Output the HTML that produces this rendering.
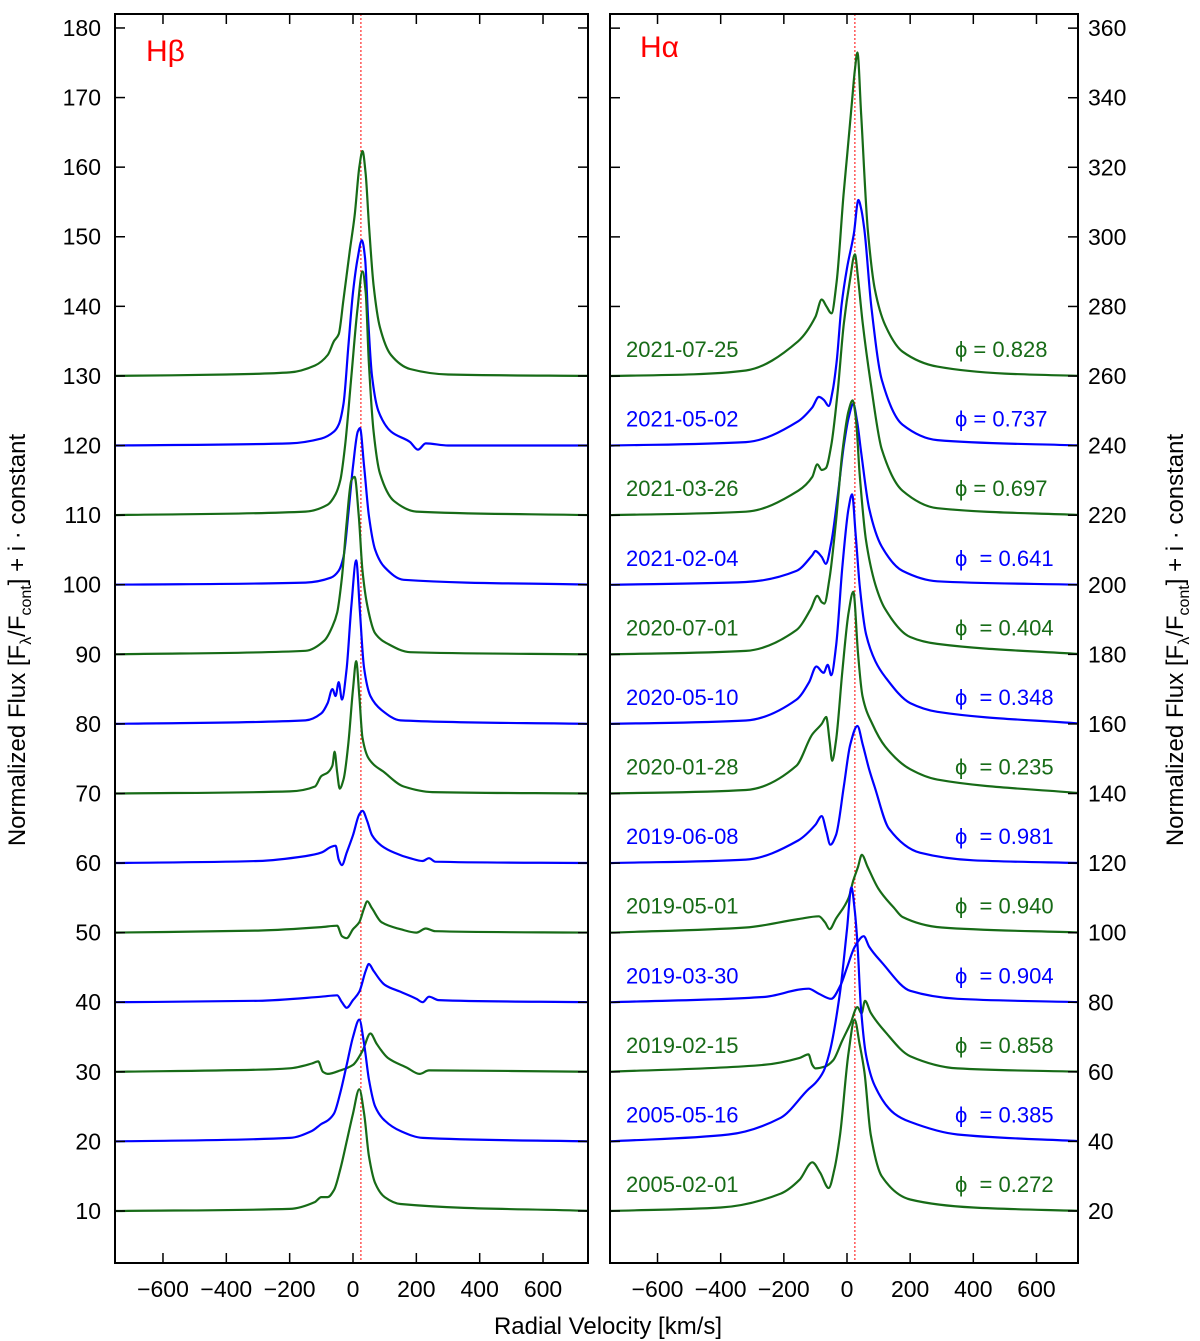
<!DOCTYPE html>
<html><head><meta charset="utf-8"><style>
body{margin:0;background:#fff}
svg{display:block;font-family:"Liberation Sans",sans-serif}
</style></head><body>
<svg id="chart" width="1200" height="1341" viewBox="0 0 1200 1341" xmlns="http://www.w3.org/2000/svg">
<defs>
<clipPath id="clipL"><rect x="115" y="14" width="473" height="1249"/></clipPath>
<clipPath id="clipR"><rect x="610" y="14" width="468" height="1249"/></clipPath>
</defs>
<g id="gL" clip-path="url(#clipL)"></g>
<g id="gR" clip-path="url(#clipR)"></g>
<g id="axes"></g>
<rect x="115" y="14" width="473" height="1249" fill="none" stroke="#000" stroke-width="2"/>
<rect x="610" y="14" width="468" height="1249" fill="none" stroke="#000" stroke-width="2"/>
<text x="146" y="61" font-size="30" fill="#ff0000">Hβ</text>
<text x="640" y="57" font-size="30" fill="#ff0000">Hα</text>
<text x="608" y="1334" font-size="24" text-anchor="middle">Radial Velocity [km/s]</text>
<text transform="translate(25,640) rotate(-90)" font-size="24" text-anchor="middle">Normalized Flux [F<tspan font-size="16" dy="6">λ</tspan><tspan dy="-6">/F</tspan><tspan font-size="16" dy="6">cont</tspan><tspan dy="-6">] + i · constant</tspan></text>
<text transform="translate(1183,640) rotate(-90)" font-size="24" text-anchor="middle">Normalized Flux [F<tspan font-size="16" dy="6">λ</tspan><tspan dy="-6">/F</tspan><tspan font-size="16" dy="6">cont</tspan><tspan dy="-6">] + i · constant</tspan></text>
</svg>
<script>
const NS="http://www.w3.org/2000/svg";
const GREEN="#176b17", BLUE="#0000ff";
// Hbeta data: [velocity, flux above base]
const hbBases=[130,120,110,100,90,80,70,60,50,40,30,20,10];
const hb130=[[-750,0],[-400,0.2],[-200,0.5],[-120,1.5],[-80,3],[-60,5],[-45,6],[-30,11],[-10,18],[5,23],[20,30],[30,32.3],[40,29],[50,22],[65,13],[85,7],[120,3],[180,1],[300,0.2],[750,0]];
const hb120=[[-750,0],[-200,0.3],[-100,1],[-60,2],[-45,3],[-30,6],[-15,14],[0,22],[15,27],[28,29.5],[38,27],[48,18],[60,10],[80,5],[120,2],[180,0.5],[205,-0.6],[230,0.3],[300,0],[750,0]];
const hb110=[[-750,0],[-150,0.5],[-80,1.5],[-55,3],[-40,5],[-25,10],[-5,20],[15,30],[30,35],[40,32],[50,22],[65,12],[85,6],[130,2],[200,0.5],[750,0]];
const hb100=[[-750,0],[-150,0.3],[-70,1],[-45,2],[-30,4],[-15,10],[0,17],[15,22],[22,22.5],[35,17],[50,10],[70,5],[100,2.5],[160,0.7],[750,0]];
const hb90=[[-750,0],[-150,0.5],[-90,2],[-65,4],[-50,6],[-35,11],[-20,19],[-5,25],[5,25.5],[18,20],[30,12],[45,7],[70,3],[110,1.5],[180,0.3],[750,0]];
const hb80=[[-750,0],[-150,0.5],[-100,1.5],[-80,3],[-65,5],[-55,4],[-45,6],[-35,3.5],[-20,8],[-5,17],[10,23.5],[22,16],[35,8],[55,4],[90,2],[150,0.5],[750,0]];
const hb70=[[-750,0],[-200,0.3],[-120,1],[-100,2.5],[-80,3],[-65,4],[-58,6],[-50,3],[-42,0.7],[-30,2],[-15,7],[0,15],[10,19],[20,14],[30,8],[50,5],[100,3],[160,1],[250,0.2],[750,0]];
const hb60=[[-750,0],[-300,0.3],[-150,1],[-100,1.5],[-70,2.3],[-55,2.5],[-45,0.5],[-35,-0.3],[-20,1.5],[0,4],[20,7],[30,7.5],[45,6],[60,4],[90,2.5],[130,1.5],[180,0.7],[220,0.3],[240,0.7],[260,0.2],[750,0]];
const hb50=[[-750,0],[-300,0.3],[-100,0.8],[-50,1],[-35,-0.5],[-20,-0.8],[0,0.5],[20,1.5],[35,3.5],[45,4.5],[60,3.5],[90,1.5],[150,0.5],[200,0],[230,0.6],[260,0.2],[750,0]];
const hb40=[[-750,0],[-300,0.2],[-100,0.8],[-50,1],[-35,0],[-20,-0.8],[0,0.3],[20,1.5],[40,4.5],[50,5.5],[65,4.5],[100,2.5],[150,1.5],[200,0.5],[220,0],[240,0.8],[270,0.3],[750,0]];
const hb30=[[-750,0],[-300,0.3],[-200,0.5],[-130,1.2],[-110,1.5],[-95,0],[-80,-0.3],[-40,0.2],[0,1],[30,3],[55,5.5],[75,4],[110,2],[170,0.6],[210,-0.3],[240,0.2],[750,0]];
const hb20=[[-750,0],[-200,0.5],[-130,1.5],[-100,2.5],[-80,3],[-60,4],[-40,7],[-20,11],[0,15],[20,17.5],[35,14],[50,9],[70,5],[100,3],[150,1.5],[220,0.5],[750,0]];
const hb10=[[-750,0],[-200,0.3],[-120,1.3],[-100,2],[-80,2],[-60,3],[-40,6],[-20,10],[0,14],[20,17.5],[35,14],[50,8],[70,4],[100,2],[150,1],[750,0]];
const hbSeries=[hb130,hb120,hb110,hb100,hb90,hb80,hb70,hb60,hb50,hb40,hb30,hb20,hb10];
// Halpha data
const haBases=[260,240,220,200,180,160,140,120,100,80,60,40,20];
const ha260=[[-750,0],[-485,0.5],[-320,1.6],[-155,10],[-100,17],[-80,22],[-65,20],[-49,18],[-33,27],[-11,52],[0,63],[15,78],[25,88],[33,93],[45,75],[66,42],[88,25],[121,14.6],[176,7],[286,2.7],[500,0.7],[750,0]];
const ha240=[[-750,0],[-320,1],[-155,7],[-110,11],[-89,14],[-72,13],[-58,11.4],[-45,16],[-33,24],[-17,40.5],[0,51],[22,61],[36,70.6],[45,68],[55,62],[77,40],[110,19],[176,6],[286,1.6],[750,0]];
const ha220=[[-750,0],[-320,1],[-155,7],[-110,11],[-94,14.6],[-80,13],[-67,13.5],[-50,20],[-30,35],[-10,55],[10,68],[25,75],[35,68],[50,55],[75,38],[110,19],[176,7],[286,2],[750,0]];
const ha200=[[-750,0],[-320,0.8],[-160,4],[-110,8.5],[-100,9.7],[-80,8],[-67,6],[-50,12],[-30,25],[-10,40],[5,48],[20,52],[32,47],[45,38],[70,22],[110,11],[176,4],[286,1],[750,0]];
const ha180=[[-750,0],[-320,1],[-160,7],[-115,13],[-94,16.8],[-80,15],[-72,14.6],[-55,22],[-35,38],[-15,58],[5,70],[18,73],[28,68],[40,52],[60,33],[90,20],[121,13],[200,5],[286,3],[750,0]];
const ha160=[[-750,0],[-320,1],[-160,7],[-120,12],[-97,16.5],[-74,14.7],[-61,17],[-50,14],[-35,22],[-15,45],[5,62],[16,66],[27,55],[40,40],[60,26],[90,18],[121,13.5],[200,6],[286,3.5],[750,0]];
const ha140=[[-750,0],[-320,1],[-160,8],[-110,17],[-80,20],[-66,22],[-55,15],[-47,9.4],[-35,15],[-15,35],[5,52],[20,58],[35,40],[49,28],[80,20],[121,13.5],[200,7],[286,4],[750,0]];
const ha120=[[-750,0],[-320,1],[-155,6.5],[-100,11],[-80,13.5],[-65,9],[-53,5.3],[-35,8],[-10,22],[10,34],[33,39.4],[50,34],[70,27],[88,21.8],[132,10],[231,3],[400,0.8],[750,0]];
const ha100=[[-750,0],[-320,1.5],[-155,3.9],[-89,4.7],[-70,3],[-55,1],[-35,4],[5,10],[20,15],[35,19],[47,22.4],[65,19],[99,12.7],[150,7],[176,4.5],[300,1.5],[750,0]];
const ha80=[[-750,0],[-265,1.5],[-122,3.9],[-90,2.5],[-50,1],[-20,5],[0,10],[25,16],[53,19],[70,16],[110,11.5],[200,3.3],[350,1],[750,0]];
const ha60=[[-750,0],[-265,2],[-150,4],[-122,5],[-110,2],[-100,1],[-70,1.5],[-44,3.3],[-15,9],[11,13.9],[33,18.6],[46,16.8],[57,20.4],[75,17],[121,11.5],[200,4.5],[350,1],[750,0]];
const ha40=[[-750,0],[-375,2],[-210,6.8],[-122,15],[-100,16.8],[-75,20],[-55,25.6],[-22,43],[0,61],[14,73],[25,66],[33,57],[44,38.6],[60,25],[88,16],[150,8],[200,5.6],[350,2],[750,0]];
const ha20=[[-750,0],[-400,1],[-210,5],[-150,9],[-110,14],[-85,11],[-58,6.6],[-40,12],[-22,22],[5,45.6],[24,55],[40,48],[55,40],[75,22],[110,10],[200,3.3],[400,1],[750,0]];
const haSeries=[ha260,ha240,ha220,ha200,ha180,ha160,ha140,ha120,ha100,ha80,ha60,ha40,ha20];
const dates=["2021-07-25","2021-05-02","2021-03-26","2021-02-04","2020-07-01","2020-05-10","2020-01-28","2019-06-08","2019-05-01","2019-03-30","2019-02-15","2005-05-16","2005-02-01"];
const phases=["ϕ = 0.828","ϕ = 0.737","ϕ = 0.697","ϕ  = 0.641","ϕ  = 0.404","ϕ  = 0.348","ϕ  = 0.235","ϕ  = 0.981","ϕ  = 0.940","ϕ  = 0.904","ϕ  = 0.858","ϕ  = 0.385","ϕ  = 0.272"];
const xTicks=[-600,-400,-200,0,200,400,600];
const yTicksL=[10,20,30,40,50,60,70,80,90,100,110,120,130,140,150,160,170,180];
const yTicksR=[20,40,60,80,100,120,140,160,180,200,220,240,260,280,300,320,340,360];
const restVel=25;

const xL=v=>353+v*0.3167, xR=v=>847+v*0.3158;
const yL=f=>1211-(f-10)*6.959, yR=f=>1211-(f-20)*3.479;

// monotone cubic (Fritsch-Carlson) path
function pathFrom(pts){
  const n=pts.length, dx=[], m=[], t=new Array(n);
  for(let i=0;i<n-1;i++){dx[i]=pts[i+1][0]-pts[i][0];m[i]=(pts[i+1][1]-pts[i][1])/dx[i];}
  t[0]=m[0];t[n-1]=m[n-2];
  for(let i=1;i<n-1;i++){
    if(m[i-1]*m[i]<=0)t[i]=0;
    else{const w1=2*dx[i]+dx[i-1],w2=dx[i]+2*dx[i-1];t[i]=(w1+w2)/(w1/m[i-1]+w2/m[i]);}
  }
  let d="M"+pts[0][0].toFixed(1)+","+pts[0][1].toFixed(1);
  for(let i=0;i<n-1;i++){
    const h=dx[i]/3;
    d+=" C"+(pts[i][0]+h).toFixed(1)+","+(pts[i][1]+t[i]*h).toFixed(1)+" "+(pts[i+1][0]-h).toFixed(1)+","+(pts[i+1][1]-t[i+1]*h).toFixed(1)+" "+pts[i+1][0].toFixed(1)+","+pts[i+1][1].toFixed(1);
  }
  return d;
}
const svg=document.getElementById("chart");
const gL=document.getElementById("gL"), gR=document.getElementById("gR"), ax=document.getElementById("axes");
function mk(tag,attrs,parent){const e=document.createElementNS(NS,tag);for(const k in attrs)e.setAttribute(k,attrs[k]);parent.appendChild(e);return e;}

let rl=mk("line",{x1:xL(restVel),x2:xL(restVel),y1:14,y2:1263,stroke:"#ff0000","stroke-width":1,"stroke-dasharray":"2,2"},gL);


let rr=mk("line",{x1:xR(restVel),x2:xR(restVel),y1:14,y2:1263,stroke:"#ff0000","stroke-width":1,"stroke-dasharray":"2,2"},gR);



hbSeries.forEach((s,i)=>{
  const col=i%2===0?GREEN:BLUE;
  const p=mk("path",{d:pathFrom(s.map(q=>[xL(q[0]),yL(hbBases[i]+q[1])])),fill:"none",stroke:col,"stroke-width":2.2},gL);
  
  
});
haSeries.forEach((s,i)=>{
  const col=i%2===0?GREEN:BLUE;
  const p=mk("path",{d:pathFrom(s.map(q=>[xR(q[0]),yR(haBases[i]+q[1])])),fill:"none",stroke:col,"stroke-width":2.2},gR);
  
  
  const by=yR(haBases[i]);
  const t=mk("text",{x:626,y:by-19,"font-size":22,fill:col},svg);
  t.textContent=dates[i];
  
  
  const ph=mk("text",{x:955,y:by-19,"font-size":22,fill:col},svg);
  ph.style.whiteSpace="pre";
  ph.textContent=phases[i];
  
  
});

xTicks.forEach(v=>{
  [xL,xR].forEach(f=>{
    const x=f(v);
    const t1=mk("line",{x1:x,x2:x,y1:1263,y2:1253,stroke:"#000","stroke-width":1.5},ax);
    
    
    const t2=mk("line",{x1:x,x2:x,y1:14,y2:24,stroke:"#000","stroke-width":1.5},ax);
    
    
    const lb=mk("text",{x:x,y:1297,"font-size":23,"text-anchor":"middle"},ax);
    lb.textContent=String(v).replace("-","−");
    
    
  });
});
yTicksL.forEach(v=>{
  const y=yL(v);
  const a=mk("line",{x1:115,x2:125,y1:y,y2:y,stroke:"#000","stroke-width":1.5},ax);
  
  
  const b=mk("line",{x1:588,x2:578,y1:y,y2:y,stroke:"#000","stroke-width":1.5},ax);
  
  
  const lb=mk("text",{x:101,y:y+8,"font-size":23,"text-anchor":"end"},ax);
  lb.textContent=v;
  
  
});
yTicksR.forEach(v=>{
  const y=yR(v);
  const a=mk("line",{x1:610,x2:620,y1:y,y2:y,stroke:"#000","stroke-width":1.5},ax);
  
  
  const b=mk("line",{x1:1078,x2:1068,y1:y,y2:y,stroke:"#000","stroke-width":1.5},ax);
  
  
  const lb=mk("text",{x:1088,y:y+8,"font-size":23},ax);
  lb.textContent=v;
  
  
});
</script>
</body></html>
